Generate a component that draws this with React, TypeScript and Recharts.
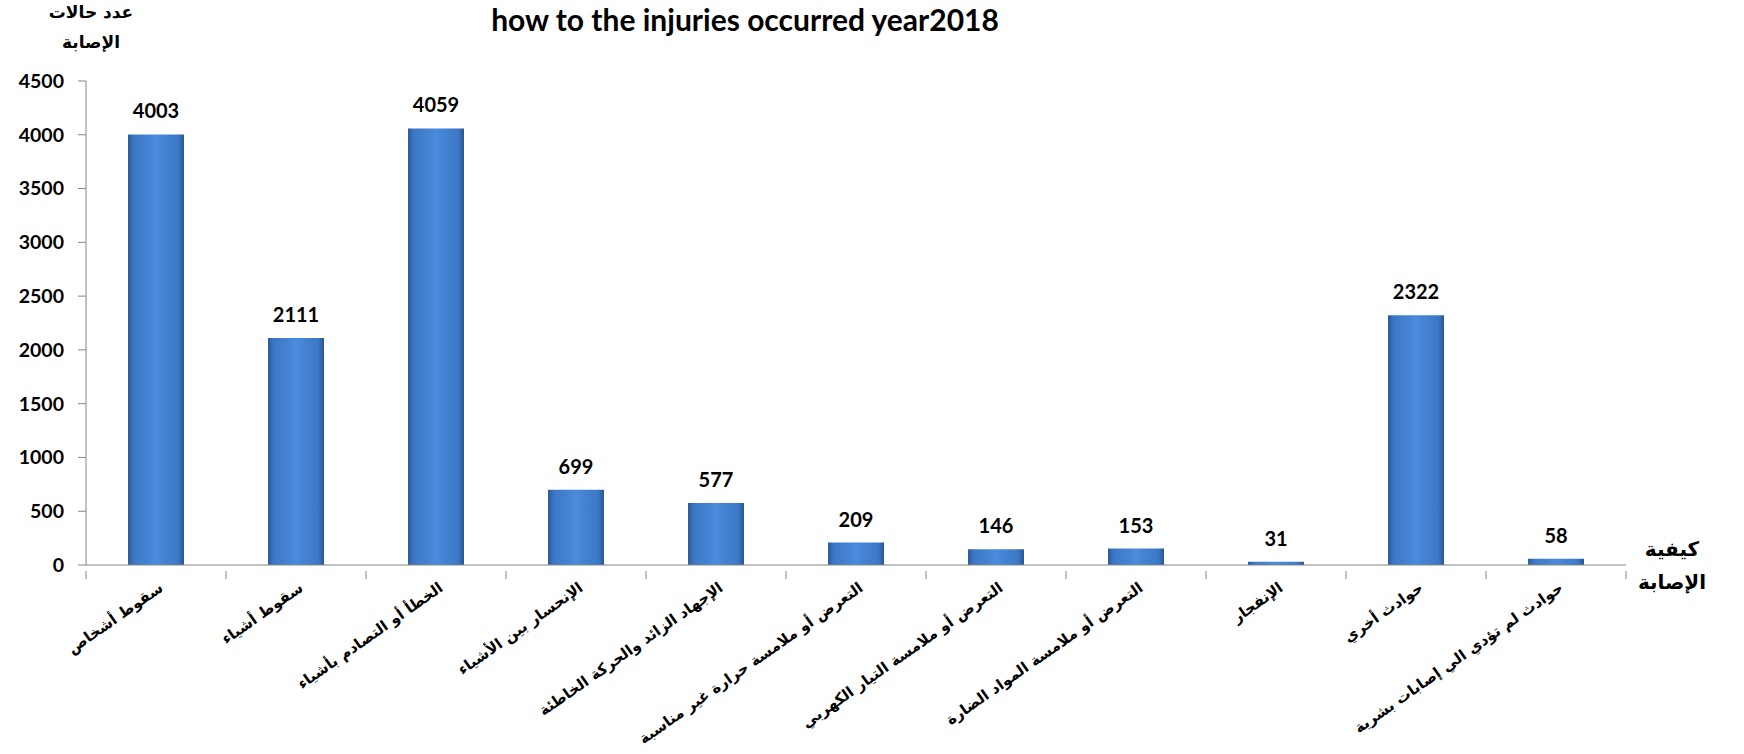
import React from 'react';
import { BarChart, Bar, XAxis, YAxis, LabelList, Customized } from 'recharts';

const categories = [
  'سقوط أشخاص',
  'سقوط أشياء',
  'الخطأ أو التصادم بأشياء',
  'الإنحسار بين الأشياء',
  'الإجهاد الزائد والحركة الخاطئة',
  'التعرض أو ملامسة حرارة غير مناسبة',
  'التعرض أو ملامسة التيار الكهربي',
  'التعرض أو ملامسة المواد الضارة',
  'الإنفجار',
  'حوادث أخري',
  'حوادث لم تؤدي الي إصابات بشرية',
];
const injuries = [4003, 2111, 4059, 699, 577, 209, 146, 153, 31, 2322, 58];
const yTicks = [0, 500, 1000, 1500, 2000, 2500, 3000, 3500, 4000, 4500];

const title = 'how to the injuries occurred year2018';
const yTitle = ['عدد حالات', 'الإصابة'];
const xTitle = ['كيفية', 'الإصابة'];

const data = categories.map((name, i) => ({ name, value: injuries[i] }));

const W = 1744;
const H = 754;
const AXIS_W = 86;
const RIGHT = 118;
const BAND_HALF = (W - AXIS_W - RIGHT) / categories.length / 2;
const AXIS_COLOR = '#868686';
const ARABIC = '"DejaVu Sans", sans-serif';
const LATIN = 'Lato, "Open Sans", sans-serif';

if (typeof document !== 'undefined') document.body.style.margin = '0';

function CategoryTick(props: any) {
  const { x, y, payload, index } = props;
  const top = y - 4;
  const ax = x + 8;
  const ay = y + 15;
  return (
    <g>
      <line x1={x - BAND_HALF} x2={x - BAND_HALF} y1={top} y2={top + 8} stroke={AXIS_COLOR} />
      {index === categories.length - 1 && (
        <line x1={x + BAND_HALF} x2={x + BAND_HALF} y1={top} y2={top + 8} stroke={AXIS_COLOR} />
      )}
      <text
        x={ax}
        y={ay}
        transform={`rotate(-35 ${ax} ${ay})`}
        textAnchor="end"
        fontFamily={ARABIC}
        fontWeight="bold"
        fontSize={15}
        fill="#000"
      >
        {payload.value}
      </text>
    </g>
  );
}

function Titles() {
  return (
    <g>
      <text x={745} y={31} textAnchor="middle" fontFamily={LATIN} fontWeight="bold" fontSize={30} fill="#000">
        {title}
      </text>
      {yTitle.map((t, i) => (
        <text key={t} x={91} y={18 + i * 30} textAnchor="middle" fontFamily={ARABIC} fontWeight="bold" fontSize={17} fill="#000">
          {t}
        </text>
      ))}
      {xTitle.map((t, i) => (
        <text key={t} x={1672} y={556 + i * 33} textAnchor="middle" fontFamily={ARABIC} fontWeight="bold" fontSize={20} fill="#000">
          {t}
        </text>
      ))}
    </g>
  );
}

export default function App() {
  return (
    <div style={{ width: W, height: H, background: '#fff' }}>
      <BarChart width={W} height={H} data={data} margin={{ top: 81, right: RIGHT, bottom: 0, left: 0 }} barCategoryGap="30%">
        <defs>
          <linearGradient id="barFill" x1="0" y1="0" x2="1" y2="0">
            <stop offset="0%" stopColor="#2c5a96" />
            <stop offset="10%" stopColor="#3b77c4" />
            <stop offset="50%" stopColor="#4a8bdc" />
            <stop offset="90%" stopColor="#3b77c4" />
            <stop offset="100%" stopColor="#2a5690" />
          </linearGradient>
        </defs>
        <XAxis
          dataKey="name"
          height={189}
          interval={0}
          tickLine={false}
          axisLine={{ stroke: AXIS_COLOR }}
          tick={<CategoryTick />}
          tickMargin={4}
        />
        <YAxis
          width={AXIS_W}
          domain={[0, 4500]}
          ticks={yTicks}
          interval={0}
          tickSize={8}
          tickMargin={14}
          tickLine={{ stroke: AXIS_COLOR }}
          axisLine={{ stroke: AXIS_COLOR }}
          tick={{ fill: '#000', fontSize: 19.5, fontWeight: 'bold', fontFamily: LATIN }}
        />
        <Bar dataKey="value" fill="url(#barFill)" isAnimationActive={false}>
          <LabelList dataKey="value" position="top" offset={16} fill="#000" fontSize={20} fontWeight="bold" fontFamily={LATIN} />
        </Bar>
        <Customized component={<Titles />} />
      </BarChart>
    </div>
  );
}
